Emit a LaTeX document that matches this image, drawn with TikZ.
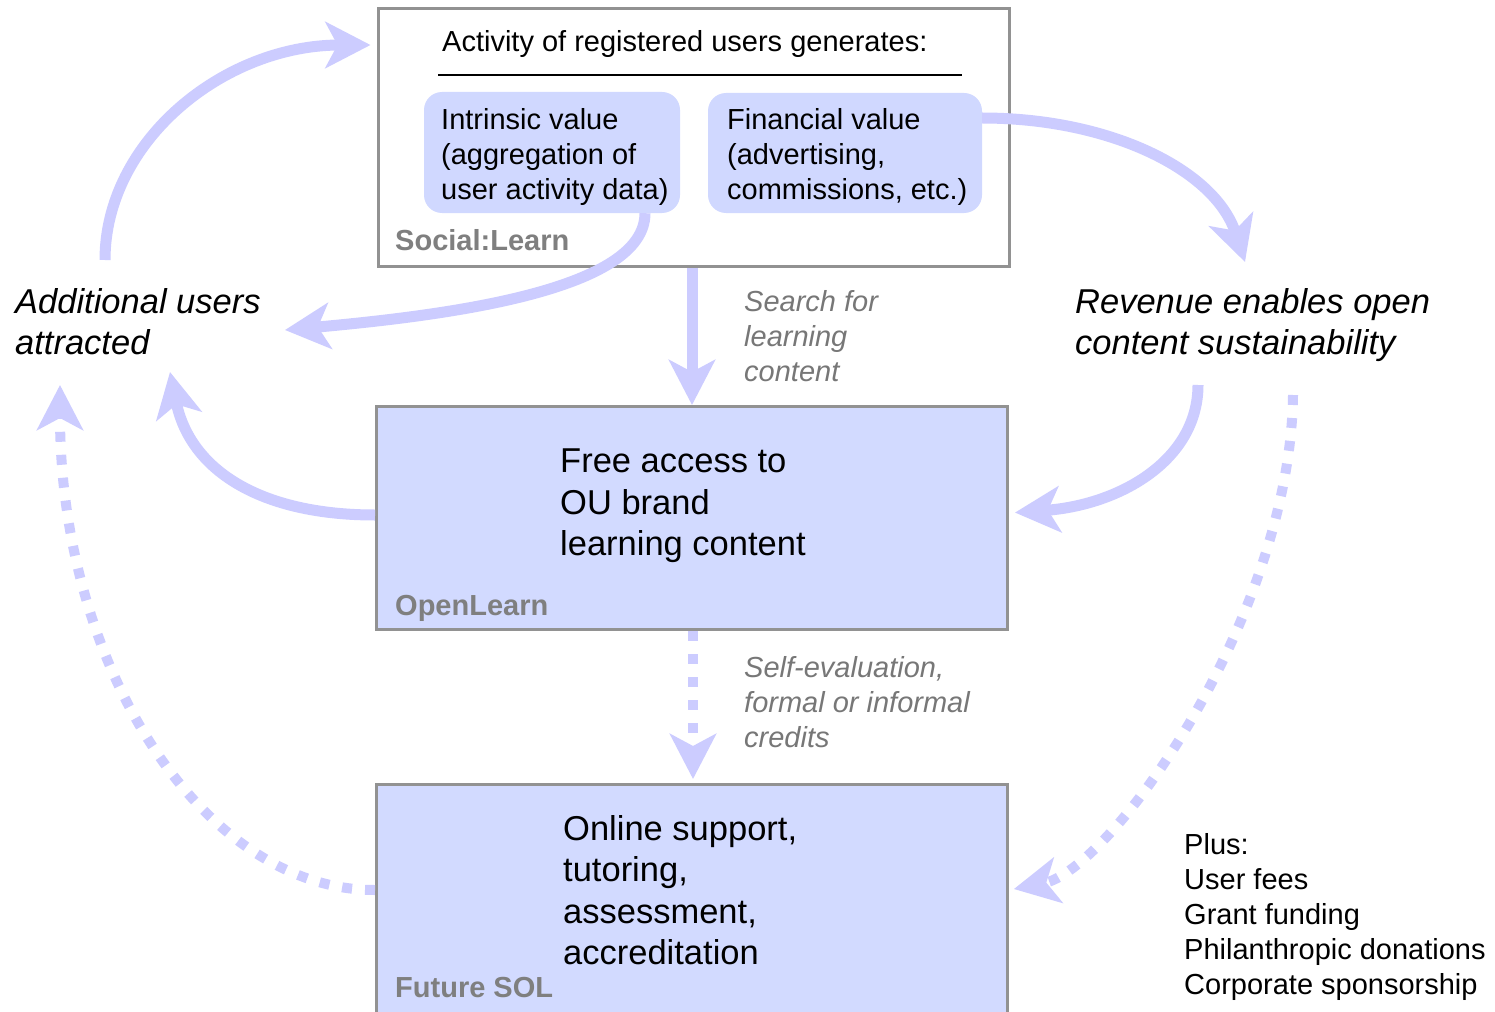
\documentclass[tikz,border=0pt]{standalone}
\usepackage{fontspec}
\setmainfont{Liberation Sans}
\usetikzlibrary{arrows.meta}
\definecolor{arr}{HTML}{CCCCFF}
\definecolor{boxfill}{HTML}{D2DAFF}
\definecolor{valfill}{HTML}{D0D8FF}
\definecolor{bordergray}{HTML}{929292}
\definecolor{labgray}{HTML}{7F7F7F}
\definecolor{capgray}{HTML}{777777}
\begin{document}
\begin{tikzpicture}[x=1pt,y=-1pt,
  frame/.style={draw=bordergray, line width=3pt, inner sep=0pt},
  valbox/.style={fill=valfill, rounded corners=18pt, inner sep=0pt},
  flow/.style={draw=arr, line width=11pt, -{Stealth[length=45pt,width=46pt,inset=12pt]}},
  dotflow/.style={flow, line width=10pt, dash pattern=on 10pt off 13pt},
  tag/.style={text=labgray, font=\fontsize{29}{35}\selectfont\bfseries, anchor=base west, inner sep=0pt},
  txt/.style={font=\fontsize{29}{35}\selectfont, align=left, anchor=west, inner sep=0pt},
  big/.style={font=\fontsize{34.5}{41.5}\selectfont, align=left, anchor=west, inner sep=0pt},
  note/.style={font=\fontsize{34.5}{41}\selectfont\itshape, align=left, anchor=west, inner sep=0pt},
  cnote/.style={txt, text=capgray, font=\fontsize{29}{35}\selectfont\itshape}]
\useasboundingbox (0,0) rectangle (1495,1011);
\clip (0,0) rectangle (1495,1011);
\fill[white] (0,0) rectangle (1495,1011);

% Social:Learn
\node[frame, fill=white, minimum width=631pt, minimum height=258pt] (sl) at (693.5,137.5) {};
\node[txt, anchor=base west] (title) at (442,52) {Activity of registered users generates:};
\draw[line width=2pt] (438,75) -- (962,75);
\node[valbox, minimum width=256pt, minimum height=121pt] (intr) at (552,152.5) {};
\node[txt] (intrT) at (441,157) {Intrinsic value\\(aggregation of\\user activity data)};
\node[valbox, minimum width=274pt, minimum height=120pt] (fin) at (845,153) {};
\node[txt] (finT) at (727,157) {Financial value\\(advertising,\\commissions, etc.)};
\node[tag] (slTag) at (395,250) {Social:Learn};

% OpenLearn
\node[frame, fill=boxfill, minimum width=631pt, minimum height=223pt] (ol) at (692,518) {};
\node[big] (olT) at (560,506) {Free access to\\OU brand\\learning content};
\node[tag] (olTag) at (395,615) {OpenLearn};

% Future SOL
\node[frame, fill=boxfill, minimum width=631pt, minimum height=246pt] (fs) at (692,907.5) {};
\node[big] (fsT) at (563,890) {Online support,\\tutoring,\\assessment,\\accreditation};
\node[tag] (fsTag) at (395,997) {Future SOL};

% side labels
\node[note] (add) at (15,321.5) {Additional users\\attracted};
\node[note] (rev) at (1075,325) {Revenue enables open\\content sustainability};
\node[cnote] (search) at (744,336) {Search for\\learning\\content};
\node[cnote] (selfev) at (744,702) {Self-evaluation,\\formal or informal\\credits};
\node[txt] (plus) at (1184,917) {Plus:\\User fees\\Grant funding\\Philanthropic donations\\Corporate sponsorship};

% free ends
\coordinate (addTop) at (105,260);
\coordinate (addR) at (285,330);
\coordinate (addB) at (170,372);
\coordinate (addBL) at (60,385);
\coordinate (revTop) at (1245,262);
\coordinate (revB) at (1198,385);
\coordinate (revBR) at (1293,395);

% connectors
\draw[flow, shorten >=6pt] (addTop) .. controls (105,141) and (224,45) .. (sl.west |- 0,45);
\draw[flow] (intr.south -| 645,0) .. controls (645,290) and (450,315) .. (addR);
\draw[flow] (fin.east |- 0,118) .. controls (1110,118) and (1215,170) .. (revTop);
\draw[flow] (sl.south -| 692,0) -- (ol.north -| 692,0);
\draw[flow] (ol.west |- 0,515) .. controls (260,515) and (190,470) .. (addB);
\draw[flow, shorten >=6pt] (revB) .. controls (1198,460) and (1120,505) .. (ol.east |- 0,513);
\draw[dotflow, shorten >=4pt] (ol.south -| 693,0) -- (fs.north -| 693,0);
\draw[dotflow] (fs.west |- 0,890) .. controls (201,890) and (60,664) .. (addBL);
\draw[dotflow, shorten >=5pt] (revBR) .. controls (1290,620) and (1110,870) .. (fs.east |- 0,890);
\end{tikzpicture}
\end{document}
